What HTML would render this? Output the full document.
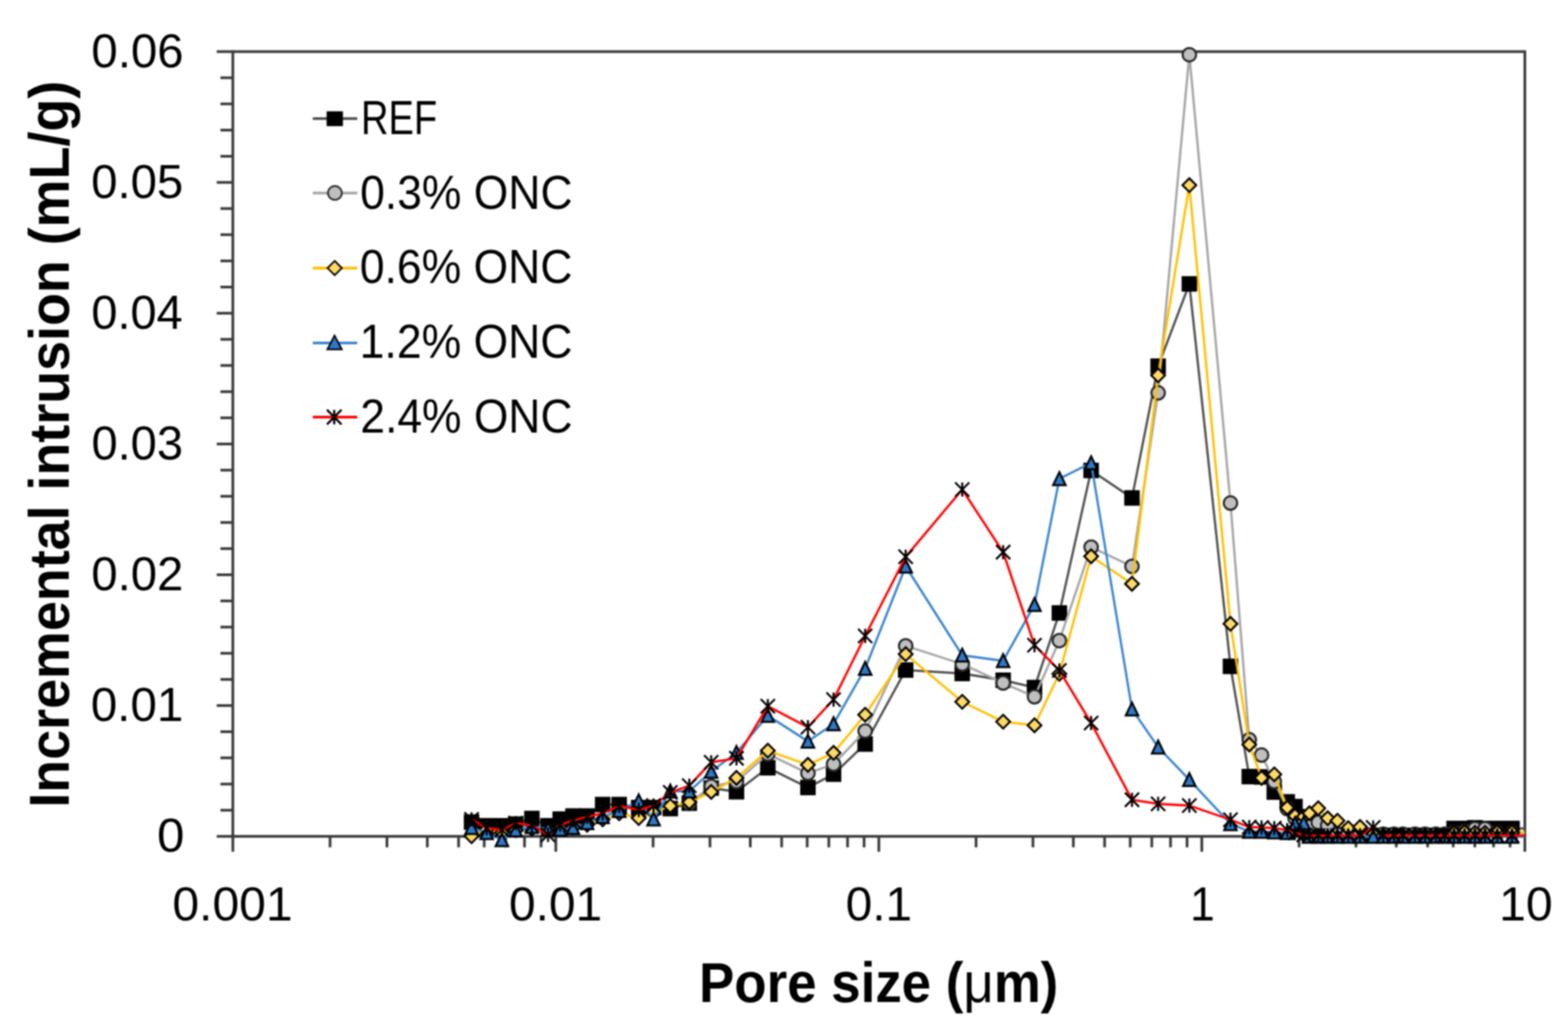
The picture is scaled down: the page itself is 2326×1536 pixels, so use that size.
<!DOCTYPE html><html><head><meta charset="utf-8"><style>html,body{margin:0;padding:0;background:#fff;overflow:hidden}svg{display:block;filter:blur(1px)}text{font-family:"Liberation Sans",Arial,sans-serif;fill:#000}</style></head><body>
<svg width="2326" height="1536" viewBox="0 0 2326 1536">
<rect width="2326" height="1536" fill="#fff"/>
<g stroke="#3a3a3a" stroke-width="4"><rect x="345.4" y="76.6" width="1916.6" height="1164.6" fill="none" stroke="#3a3a3a" stroke-width="4"/><line x1="321.5" y1="1241.2" x2="345.4" y2="1241.2"/><line x1="327" y1="1202.4" x2="345.4" y2="1202.4"/><line x1="327" y1="1163.6" x2="345.4" y2="1163.6"/><line x1="327" y1="1124.7" x2="345.4" y2="1124.7"/><line x1="327" y1="1085.9" x2="345.4" y2="1085.9"/><line x1="321.5" y1="1047.1" x2="345.4" y2="1047.1"/><line x1="327" y1="1008.3" x2="345.4" y2="1008.3"/><line x1="327" y1="969.5" x2="345.4" y2="969.5"/><line x1="327" y1="930.6" x2="345.4" y2="930.6"/><line x1="327" y1="891.8" x2="345.4" y2="891.8"/><line x1="321.5" y1="853" x2="345.4" y2="853"/><line x1="327" y1="814.2" x2="345.4" y2="814.2"/><line x1="327" y1="775.4" x2="345.4" y2="775.4"/><line x1="327" y1="736.5" x2="345.4" y2="736.5"/><line x1="327" y1="697.7" x2="345.4" y2="697.7"/><line x1="321.5" y1="658.9" x2="345.4" y2="658.9"/><line x1="327" y1="620.1" x2="345.4" y2="620.1"/><line x1="327" y1="581.3" x2="345.4" y2="581.3"/><line x1="327" y1="542.4" x2="345.4" y2="542.4"/><line x1="327" y1="503.6" x2="345.4" y2="503.6"/><line x1="321.5" y1="464.8" x2="345.4" y2="464.8"/><line x1="327" y1="426" x2="345.4" y2="426"/><line x1="327" y1="387.2" x2="345.4" y2="387.2"/><line x1="327" y1="348.3" x2="345.4" y2="348.3"/><line x1="327" y1="309.5" x2="345.4" y2="309.5"/><line x1="321.5" y1="270.7" x2="345.4" y2="270.7"/><line x1="327" y1="231.9" x2="345.4" y2="231.9"/><line x1="327" y1="193.1" x2="345.4" y2="193.1"/><line x1="327" y1="154.2" x2="345.4" y2="154.2"/><line x1="327" y1="115.4" x2="345.4" y2="115.4"/><line x1="321.5" y1="76.6" x2="345.4" y2="76.6"/><line x1="345.4" y1="1241.2" x2="345.4" y2="1264"/><line x1="489.6" y1="1241.2" x2="489.6" y2="1257.5"/><line x1="574" y1="1241.2" x2="574" y2="1257.5"/><line x1="633.9" y1="1241.2" x2="633.9" y2="1257.5"/><line x1="680.3" y1="1241.2" x2="680.3" y2="1257.5"/><line x1="718.3" y1="1241.2" x2="718.3" y2="1257.5"/><line x1="750.3" y1="1241.2" x2="750.3" y2="1257.5"/><line x1="778.1" y1="1241.2" x2="778.1" y2="1257.5"/><line x1="802.6" y1="1241.2" x2="802.6" y2="1257.5"/><line x1="824.5" y1="1241.2" x2="824.5" y2="1264"/><line x1="968.8" y1="1241.2" x2="968.8" y2="1257.5"/><line x1="1053.2" y1="1241.2" x2="1053.2" y2="1257.5"/><line x1="1113" y1="1241.2" x2="1113" y2="1257.5"/><line x1="1159.5" y1="1241.2" x2="1159.5" y2="1257.5"/><line x1="1197.4" y1="1241.2" x2="1197.4" y2="1257.5"/><line x1="1229.5" y1="1241.2" x2="1229.5" y2="1257.5"/><line x1="1257.3" y1="1241.2" x2="1257.3" y2="1257.5"/><line x1="1281.8" y1="1241.2" x2="1281.8" y2="1257.5"/><line x1="1303.7" y1="1241.2" x2="1303.7" y2="1264"/><line x1="1447.9" y1="1241.2" x2="1447.9" y2="1257.5"/><line x1="1532.3" y1="1241.2" x2="1532.3" y2="1257.5"/><line x1="1592.2" y1="1241.2" x2="1592.2" y2="1257.5"/><line x1="1638.6" y1="1241.2" x2="1638.6" y2="1257.5"/><line x1="1676.6" y1="1241.2" x2="1676.6" y2="1257.5"/><line x1="1708.6" y1="1241.2" x2="1708.6" y2="1257.5"/><line x1="1736.4" y1="1241.2" x2="1736.4" y2="1257.5"/><line x1="1760.9" y1="1241.2" x2="1760.9" y2="1257.5"/><line x1="1782.8" y1="1241.2" x2="1782.8" y2="1264"/><line x1="1927.1" y1="1241.2" x2="1927.1" y2="1257.5"/><line x1="2011.5" y1="1241.2" x2="2011.5" y2="1257.5"/><line x1="2071.3" y1="1241.2" x2="2071.3" y2="1257.5"/><line x1="2117.8" y1="1241.2" x2="2117.8" y2="1257.5"/><line x1="2155.7" y1="1241.2" x2="2155.7" y2="1257.5"/><line x1="2187.8" y1="1241.2" x2="2187.8" y2="1257.5"/><line x1="2215.6" y1="1241.2" x2="2215.6" y2="1257.5"/><line x1="2240.1" y1="1241.2" x2="2240.1" y2="1257.5"/><line x1="2262" y1="1241.2" x2="2262" y2="1264"/></g>
<defs><clipPath id="pa"><rect x="0" y="0" width="2263" height="1536"/></clipPath></defs>
<g clip-path="url(#pa)">
<polyline fill="none" stroke="#505050" stroke-width="3.4" stroke-linejoin="round" points="699.5,1220 722,1225.5 744.5,1225.5 765,1223 789,1214.7 813,1225.5 831,1215.6 850,1211 871,1211 894,1194 918.5,1194 947.5,1198.5 969.5,1198.5 994.3,1200 1022.5,1192 1055,1169.5 1092.5,1175 1139,1139.4 1198.5,1168.7 1236.5,1148.9 1283.4,1104.2 1343.5,994.4 1427.4,999.5 1488.1,1009.5 1534.6,1020.4 1571.5,909.7 1618.6,698.2 1679.2,739 1718,543.4 1764.3,421.3 1825.3,988.9 1853.2,1152.5 1871.4,1153 1890.3,1175.5 1909.5,1190 1921,1197 1934,1230 1942.5,1240 1955.5,1240 1969.5,1240 1984,1240 2000,1240 2017.5,1240 2037,1240 2052,1240 2068,1240 2081,1240 2099,1240 2114,1240 2130,1240 2143,1240 2157,1229.5 2172.5,1229.5 2188,1228.5 2203,1229.5 2221,1229.5 2243,1229.5 2262,1229.5"/>
<g fill="#000"><rect x="688" y="1208.5" width="23" height="23"/><rect x="710.5" y="1214" width="23" height="23"/><rect x="733" y="1214" width="23" height="23"/><rect x="753.5" y="1211.5" width="23" height="23"/><rect x="777.5" y="1203.2" width="23" height="23"/><rect x="801.5" y="1214" width="23" height="23"/><rect x="819.5" y="1204.1" width="23" height="23"/><rect x="838.5" y="1199.5" width="23" height="23"/><rect x="859.5" y="1199.5" width="23" height="23"/><rect x="882.5" y="1182.5" width="23" height="23"/><rect x="907" y="1182.5" width="23" height="23"/><rect x="936" y="1187" width="23" height="23"/><rect x="958" y="1187" width="23" height="23"/><rect x="982.8" y="1188.5" width="23" height="23"/><rect x="1011" y="1180.5" width="23" height="23"/><rect x="1043.5" y="1158" width="23" height="23"/><rect x="1081" y="1163.5" width="23" height="23"/><rect x="1127.5" y="1127.9" width="23" height="23"/><rect x="1187" y="1157.2" width="23" height="23"/><rect x="1225" y="1137.4" width="23" height="23"/><rect x="1271.9" y="1092.7" width="23" height="23"/><rect x="1332" y="982.9" width="23" height="23"/><rect x="1415.9" y="988" width="23" height="23"/><rect x="1476.6" y="998" width="23" height="23"/><rect x="1523.1" y="1008.9" width="23" height="23"/><rect x="1560" y="898.2" width="23" height="23"/><rect x="1607.1" y="686.7" width="23" height="23"/><rect x="1667.7" y="727.5" width="23" height="23"/><rect x="1706.5" y="531.9" width="23" height="23"/><rect x="1752.8" y="409.8" width="23" height="23"/><rect x="1813.8" y="977.4" width="23" height="23"/><rect x="1841.7" y="1141" width="23" height="23"/><rect x="1859.9" y="1141.5" width="23" height="23"/><rect x="1878.8" y="1164" width="23" height="23"/><rect x="1898" y="1178.5" width="23" height="23"/><rect x="1909.5" y="1185.5" width="23" height="23"/><rect x="1922.5" y="1218.5" width="23" height="23"/><rect x="1931" y="1228.5" width="23" height="23"/><rect x="1944" y="1228.5" width="23" height="23"/><rect x="1958" y="1228.5" width="23" height="23"/><rect x="1972.5" y="1228.5" width="23" height="23"/><rect x="1988.5" y="1228.5" width="23" height="23"/><rect x="2006" y="1228.5" width="23" height="23"/><rect x="2025.5" y="1228.5" width="23" height="23"/><rect x="2040.5" y="1228.5" width="23" height="23"/><rect x="2056.5" y="1228.5" width="23" height="23"/><rect x="2069.5" y="1228.5" width="23" height="23"/><rect x="2087.5" y="1228.5" width="23" height="23"/><rect x="2102.5" y="1228.5" width="23" height="23"/><rect x="2118.5" y="1228.5" width="23" height="23"/><rect x="2131.5" y="1228.5" width="23" height="23"/><rect x="2145.5" y="1218" width="23" height="23"/><rect x="2161" y="1218" width="23" height="23"/><rect x="2176.5" y="1217" width="23" height="23"/><rect x="2191.5" y="1218" width="23" height="23"/><rect x="2209.5" y="1218" width="23" height="23"/><rect x="2231.5" y="1218" width="23" height="23"/></g>
<polyline fill="none" stroke="#a5a5a5" stroke-width="3.4" stroke-linejoin="round" points="1022.5,1192 1055,1166.9 1092.5,1160 1139,1119 1198.5,1147.6 1236.5,1134 1283.4,1085 1343.5,958.5 1427.4,985.5 1488.1,1013.5 1534.6,1034.1 1571.5,950.7 1618.6,812 1679.2,840.5 1718,583.1 1764.3,81.2 1825.3,746.6 1853.2,1097.8 1871.4,1120.6 1890.3,1160 1909.5,1200 1921,1214 1934,1220 1942.5,1226 1955.5,1220.5 1969.5,1225 1984,1238 2000,1238 2017.5,1238 2037,1238 2052,1238 2068,1238 2081,1238 2099,1238 2114,1238 2130,1238 2143,1238 2157,1236 2172.5,1234 2188,1230 2203,1230 2221,1236 2243,1236 2262,1236"/>
<g fill="#bfbfbf" stroke="#262626" stroke-width="3.0"><circle cx="1022.5" cy="1192" r="10"/><circle cx="1055" cy="1166.9" r="10"/><circle cx="1092.5" cy="1160" r="10"/><circle cx="1139" cy="1119" r="10"/><circle cx="1198.5" cy="1147.6" r="10"/><circle cx="1236.5" cy="1134" r="10"/><circle cx="1283.4" cy="1085" r="10"/><circle cx="1343.5" cy="958.5" r="10"/><circle cx="1427.4" cy="985.5" r="10"/><circle cx="1488.1" cy="1013.5" r="10"/><circle cx="1534.6" cy="1034.1" r="10"/><circle cx="1571.5" cy="950.7" r="10"/><circle cx="1618.6" cy="812" r="10"/><circle cx="1679.2" cy="840.5" r="10"/><circle cx="1718" cy="583.1" r="10"/><circle cx="1764.3" cy="81.2" r="10"/><circle cx="1825.3" cy="746.6" r="10"/><circle cx="1853.2" cy="1097.8" r="10"/><circle cx="1871.4" cy="1120.6" r="10"/><circle cx="1890.3" cy="1160" r="10"/><circle cx="1909.5" cy="1200" r="10"/><circle cx="1921" cy="1214" r="10"/><circle cx="1934" cy="1220" r="10"/><circle cx="1942.5" cy="1226" r="10"/><circle cx="1955.5" cy="1220.5" r="10"/><circle cx="1969.5" cy="1225" r="10"/><circle cx="1984" cy="1238" r="10"/><circle cx="2000" cy="1238" r="10"/><circle cx="2017.5" cy="1238" r="10"/><circle cx="2037" cy="1238" r="10"/><circle cx="2052" cy="1238" r="10"/><circle cx="2068" cy="1238" r="10"/><circle cx="2081" cy="1238" r="10"/><circle cx="2099" cy="1238" r="10"/><circle cx="2114" cy="1238" r="10"/><circle cx="2130" cy="1238" r="10"/><circle cx="2143" cy="1238" r="10"/><circle cx="2157" cy="1236" r="10"/><circle cx="2172.5" cy="1234" r="10"/><circle cx="2188" cy="1230" r="10"/><circle cx="2203" cy="1230" r="10"/><circle cx="2221" cy="1236" r="10"/><circle cx="2243" cy="1236" r="10"/></g>
<polyline fill="none" stroke="#ffc000" stroke-width="3.4" stroke-linejoin="round" points="699.5,1241 722,1231 744.5,1236 765,1232 789,1230 813,1232 831,1229 850,1228 871,1224 894,1216 918.5,1207 947.5,1214 969.5,1206 994.3,1196 1022.5,1190.6 1055,1175.2 1092.5,1154.4 1139,1114 1198.5,1135.1 1236.5,1117.3 1283.4,1060.7 1343.5,970.8 1427.4,1041.5 1488.1,1071 1534.6,1076.4 1571.5,1000 1618.6,825.6 1679.2,866.4 1718,557 1764.3,274.8 1825.3,925.8 1853.2,1104.9 1871.4,1154.4 1890.3,1149.2 1909.5,1198.6 1921,1210.6 1934,1212 1942.5,1206.9 1955.5,1199.5 1969.5,1214.3 1984,1218 2000,1229 2017.5,1227.2 2037,1236 2052,1240 2068,1240 2081,1240 2099,1240 2114,1240 2130,1240 2143,1240 2157,1236 2172.5,1235 2188,1236 2203,1236 2221,1235 2243,1235 2262,1235"/>
<g fill="#ffd966" stroke="#000" stroke-width="3.0" stroke-linejoin="miter"><path d="M699.5 1230.8L709.7 1241L699.5 1251.2L689.3 1241Z"/><path d="M722 1220.8L732.2 1231L722 1241.2L711.8 1231Z"/><path d="M744.5 1225.8L754.7 1236L744.5 1246.2L734.3 1236Z"/><path d="M765 1221.8L775.2 1232L765 1242.2L754.8 1232Z"/><path d="M789 1219.8L799.2 1230L789 1240.2L778.8 1230Z"/><path d="M813 1221.8L823.2 1232L813 1242.2L802.8 1232Z"/><path d="M831 1218.8L841.2 1229L831 1239.2L820.8 1229Z"/><path d="M850 1217.8L860.2 1228L850 1238.2L839.8 1228Z"/><path d="M871 1213.8L881.2 1224L871 1234.2L860.8 1224Z"/><path d="M894 1205.8L904.2 1216L894 1226.2L883.8 1216Z"/><path d="M918.5 1196.8L928.7 1207L918.5 1217.2L908.3 1207Z"/><path d="M947.5 1203.8L957.7 1214L947.5 1224.2L937.3 1214Z"/><path d="M969.5 1195.8L979.7 1206L969.5 1216.2L959.3 1206Z"/><path d="M994.3 1185.8L1004.5 1196L994.3 1206.2L984.1 1196Z"/><path d="M1022.5 1180.4L1032.7 1190.6L1022.5 1200.8L1012.3 1190.6Z"/><path d="M1055 1165L1065.2 1175.2L1055 1185.4L1044.8 1175.2Z"/><path d="M1092.5 1144.2L1102.7 1154.4L1092.5 1164.6L1082.3 1154.4Z"/><path d="M1139 1103.8L1149.2 1114L1139 1124.2L1128.8 1114Z"/><path d="M1198.5 1124.9L1208.7 1135.1L1198.5 1145.3L1188.3 1135.1Z"/><path d="M1236.5 1107.1L1246.7 1117.3L1236.5 1127.5L1226.3 1117.3Z"/><path d="M1283.4 1050.5L1293.6 1060.7L1283.4 1070.9L1273.2 1060.7Z"/><path d="M1343.5 960.6L1353.7 970.8L1343.5 981L1333.3 970.8Z"/><path d="M1427.4 1031.3L1437.6 1041.5L1427.4 1051.7L1417.2 1041.5Z"/><path d="M1488.1 1060.8L1498.3 1071L1488.1 1081.2L1477.9 1071Z"/><path d="M1534.6 1066.2L1544.8 1076.4L1534.6 1086.6L1524.4 1076.4Z"/><path d="M1571.5 989.8L1581.7 1000L1571.5 1010.2L1561.3 1000Z"/><path d="M1618.6 815.4L1628.8 825.6L1618.6 835.8L1608.4 825.6Z"/><path d="M1679.2 856.2L1689.4 866.4L1679.2 876.6L1669 866.4Z"/><path d="M1718 546.8L1728.2 557L1718 567.2L1707.8 557Z"/><path d="M1764.3 264.6L1774.5 274.8L1764.3 285L1754.1 274.8Z"/><path d="M1825.3 915.6L1835.5 925.8L1825.3 936L1815.1 925.8Z"/><path d="M1853.2 1094.7L1863.4 1104.9L1853.2 1115.1L1843 1104.9Z"/><path d="M1871.4 1144.2L1881.6 1154.4L1871.4 1164.6L1861.2 1154.4Z"/><path d="M1890.3 1139L1900.5 1149.2L1890.3 1159.4L1880.1 1149.2Z"/><path d="M1909.5 1188.4L1919.7 1198.6L1909.5 1208.8L1899.3 1198.6Z"/><path d="M1921 1200.4L1931.2 1210.6L1921 1220.8L1910.8 1210.6Z"/><path d="M1934 1201.8L1944.2 1212L1934 1222.2L1923.8 1212Z"/><path d="M1942.5 1196.7L1952.7 1206.9L1942.5 1217.1L1932.3 1206.9Z"/><path d="M1955.5 1189.3L1965.7 1199.5L1955.5 1209.7L1945.3 1199.5Z"/><path d="M1969.5 1204.1L1979.7 1214.3L1969.5 1224.5L1959.3 1214.3Z"/><path d="M1984 1207.8L1994.2 1218L1984 1228.2L1973.8 1218Z"/><path d="M2000 1218.8L2010.2 1229L2000 1239.2L1989.8 1229Z"/><path d="M2017.5 1217L2027.7 1227.2L2017.5 1237.4L2007.3 1227.2Z"/><path d="M2037 1225.8L2047.2 1236L2037 1246.2L2026.8 1236Z"/><path d="M2052 1229.8L2062.2 1240L2052 1250.2L2041.8 1240Z"/><path d="M2068 1229.8L2078.2 1240L2068 1250.2L2057.8 1240Z"/><path d="M2081 1229.8L2091.2 1240L2081 1250.2L2070.8 1240Z"/><path d="M2099 1229.8L2109.2 1240L2099 1250.2L2088.8 1240Z"/><path d="M2114 1229.8L2124.2 1240L2114 1250.2L2103.8 1240Z"/><path d="M2130 1229.8L2140.2 1240L2130 1250.2L2119.8 1240Z"/><path d="M2143 1229.8L2153.2 1240L2143 1250.2L2132.8 1240Z"/><path d="M2157 1225.8L2167.2 1236L2157 1246.2L2146.8 1236Z"/><path d="M2172.5 1224.8L2182.7 1235L2172.5 1245.2L2162.3 1235Z"/><path d="M2188 1225.8L2198.2 1236L2188 1246.2L2177.8 1236Z"/><path d="M2203 1225.8L2213.2 1236L2203 1246.2L2192.8 1236Z"/><path d="M2221 1224.8L2231.2 1235L2221 1245.2L2210.8 1235Z"/><path d="M2243 1224.8L2253.2 1235L2243 1245.2L2232.8 1235Z"/></g>
<polyline fill="none" stroke="#3b85cf" stroke-width="3.4" stroke-linejoin="round" points="699.5,1228.5 722,1236 744.5,1246.5 765,1232 789,1227 813,1230.3 831,1231 850,1228.5 871,1221.3 894,1212.2 918.5,1203.2 947.5,1188.8 969.5,1215.8 994.3,1174.3 1022.5,1174.3 1055,1145 1092.5,1117 1139,1062 1198.5,1100.2 1236.5,1074.4 1283.4,992.2 1343.5,840.5 1427.4,972.5 1488.1,980.7 1534.6,897.4 1571.5,710.6 1618.6,687 1679.2,1052.5 1718,1108.9 1764.3,1157.2 1825.3,1222.7 1853.2,1234 1871.4,1234 1890.3,1235 1909.5,1236 1921,1222.5 1934,1221.5 1942.5,1241.5 1955.5,1241.5 1969.5,1241.5 1984,1241.5 2000,1241.5 2017.5,1241.5 2037,1241.5 2052,1241.5 2068,1241.5 2081,1241.5 2099,1241.5 2114,1241.5 2130,1241.5 2143,1241.5 2157,1241.5 2172.5,1241.5 2188,1241.5 2203,1241.5 2221,1241.5 2243,1241.5 2262,1241.5"/>
<g fill="#2e78c8" stroke="#000" stroke-width="3.0" stroke-linejoin="miter"><path d="M699.5 1218.6L708.8 1237.8L690.2 1237.8Z"/><path d="M722 1226.1L731.2 1245.3L712.8 1245.3Z"/><path d="M744.5 1236.6L753.8 1255.8L735.2 1255.8Z"/><path d="M765 1222.1L774.2 1241.3L755.8 1241.3Z"/><path d="M789 1217.1L798.2 1236.3L779.8 1236.3Z"/><path d="M813 1220.4L822.2 1239.6L803.8 1239.6Z"/><path d="M831 1221.1L840.2 1240.3L821.8 1240.3Z"/><path d="M850 1218.6L859.2 1237.8L840.8 1237.8Z"/><path d="M871 1211.4L880.2 1230.6L861.8 1230.6Z"/><path d="M894 1202.3L903.2 1221.5L884.8 1221.5Z"/><path d="M918.5 1193.3L927.8 1212.5L909.2 1212.5Z"/><path d="M947.5 1178.9L956.8 1198.1L938.2 1198.1Z"/><path d="M969.5 1205.9L978.8 1225.1L960.2 1225.1Z"/><path d="M994.3 1164.4L1003.5 1183.6L985 1183.6Z"/><path d="M1022.5 1164.4L1031.8 1183.6L1013.2 1183.6Z"/><path d="M1055 1135.1L1064.2 1154.3L1045.8 1154.3Z"/><path d="M1092.5 1107.1L1101.8 1126.3L1083.2 1126.3Z"/><path d="M1139 1052.1L1148.2 1071.3L1129.8 1071.3Z"/><path d="M1198.5 1090.3L1207.8 1109.5L1189.2 1109.5Z"/><path d="M1236.5 1064.5L1245.8 1083.7L1227.2 1083.7Z"/><path d="M1283.4 982.3L1292.7 1001.5L1274.2 1001.5Z"/><path d="M1343.5 830.6L1352.8 849.8L1334.2 849.8Z"/><path d="M1427.4 962.6L1436.7 981.8L1418.2 981.8Z"/><path d="M1488.1 970.8L1497.3 990L1478.8 990Z"/><path d="M1534.6 887.5L1543.8 906.7L1525.3 906.7Z"/><path d="M1571.5 700.7L1580.8 719.9L1562.2 719.9Z"/><path d="M1618.6 677.1L1627.8 696.3L1609.3 696.3Z"/><path d="M1679.2 1042.6L1688.5 1061.8L1670 1061.8Z"/><path d="M1718 1099L1727.2 1118.2L1708.8 1118.2Z"/><path d="M1764.3 1147.3L1773.5 1166.5L1755 1166.5Z"/><path d="M1825.3 1212.8L1834.5 1232L1816 1232Z"/><path d="M1853.2 1224.1L1862.5 1243.3L1844 1243.3Z"/><path d="M1871.4 1224.1L1880.7 1243.3L1862.2 1243.3Z"/><path d="M1890.3 1225.1L1899.5 1244.3L1881 1244.3Z"/><path d="M1909.5 1226.1L1918.8 1245.3L1900.2 1245.3Z"/><path d="M1921 1212.6L1930.2 1231.8L1911.8 1231.8Z"/><path d="M1934 1211.6L1943.2 1230.8L1924.8 1230.8Z"/><path d="M1942.5 1231.6L1951.8 1250.8L1933.2 1250.8Z"/><path d="M1955.5 1231.6L1964.8 1250.8L1946.2 1250.8Z"/><path d="M1969.5 1231.6L1978.8 1250.8L1960.2 1250.8Z"/><path d="M1984 1231.6L1993.2 1250.8L1974.8 1250.8Z"/><path d="M2000 1231.6L2009.2 1250.8L1990.8 1250.8Z"/><path d="M2017.5 1231.6L2026.8 1250.8L2008.2 1250.8Z"/><path d="M2037 1231.6L2046.2 1250.8L2027.8 1250.8Z"/><path d="M2052 1231.6L2061.2 1250.8L2042.8 1250.8Z"/><path d="M2068 1231.6L2077.2 1250.8L2058.8 1250.8Z"/><path d="M2081 1231.6L2090.2 1250.8L2071.8 1250.8Z"/><path d="M2099 1231.6L2108.2 1250.8L2089.8 1250.8Z"/><path d="M2114 1231.6L2123.2 1250.8L2104.8 1250.8Z"/><path d="M2130 1231.6L2139.2 1250.8L2120.8 1250.8Z"/><path d="M2143 1231.6L2152.2 1250.8L2133.8 1250.8Z"/><path d="M2157 1231.6L2166.2 1250.8L2147.8 1250.8Z"/><path d="M2172.5 1231.6L2181.8 1250.8L2163.2 1250.8Z"/><path d="M2188 1231.6L2197.2 1250.8L2178.8 1250.8Z"/><path d="M2203 1231.6L2212.2 1250.8L2193.8 1250.8Z"/><path d="M2221 1231.6L2230.2 1250.8L2211.8 1250.8Z"/><path d="M2243 1231.6L2252.2 1250.8L2233.8 1250.8Z"/></g>
<polyline fill="none" stroke="#ff0000" stroke-width="3.4" stroke-linejoin="round" points="699.5,1216 722,1229 744.5,1231.5 765,1221.5 789,1225 813,1239 831,1224 850,1217.6 871,1212.2 894,1207 918.5,1196 947.5,1202 969.5,1195.5 994.3,1176 1022.5,1166 1055,1131.3 1092.5,1125.4 1139,1048 1198.5,1079.2 1236.5,1038.2 1283.4,943.8 1343.5,826.3 1427.4,726.5 1488.1,819.4 1534.6,957.5 1571.5,995 1618.6,1073 1679.2,1186.9 1718,1193 1764.3,1195.5 1825.3,1216.5 1853.2,1227.5 1871.4,1228 1890.3,1229 1909.5,1232 1921,1236 1934,1239 1942.5,1240 1955.5,1240 1969.5,1240 1984,1240 2000,1240 2017.5,1240 2037,1228 2052,1240 2068,1240 2081,1240 2099,1240 2114,1240 2130,1240 2143,1240 2157,1240 2172.5,1240 2188,1240 2203,1240 2221,1240 2243,1240 2262,1240"/>
<g fill="none" stroke="#000" stroke-width="3"><path d="M689 1205.5L710 1226.5M710 1205.5L689 1226.5M699.5 1205.5L699.5 1226.5"/><path d="M711.5 1218.5L732.5 1239.5M732.5 1218.5L711.5 1239.5M722 1218.5L722 1239.5"/><path d="M734 1221L755 1242M755 1221L734 1242M744.5 1221L744.5 1242"/><path d="M754.5 1211L775.5 1232M775.5 1211L754.5 1232M765 1211L765 1232"/><path d="M778.5 1214.5L799.5 1235.5M799.5 1214.5L778.5 1235.5M789 1214.5L789 1235.5"/><path d="M802.5 1228.5L823.5 1249.5M823.5 1228.5L802.5 1249.5M813 1228.5L813 1249.5"/><path d="M820.5 1213.5L841.5 1234.5M841.5 1213.5L820.5 1234.5M831 1213.5L831 1234.5"/><path d="M839.5 1207.1L860.5 1228.1M860.5 1207.1L839.5 1228.1M850 1207.1L850 1228.1"/><path d="M860.5 1201.7L881.5 1222.7M881.5 1201.7L860.5 1222.7M871 1201.7L871 1222.7"/><path d="M883.5 1196.5L904.5 1217.5M904.5 1196.5L883.5 1217.5M894 1196.5L894 1217.5"/><path d="M908 1185.5L929 1206.5M929 1185.5L908 1206.5M918.5 1185.5L918.5 1206.5"/><path d="M937 1191.5L958 1212.5M958 1191.5L937 1212.5M947.5 1191.5L947.5 1212.5"/><path d="M959 1185L980 1206M980 1185L959 1206M969.5 1185L969.5 1206"/><path d="M983.8 1165.5L1004.8 1186.5M1004.8 1165.5L983.8 1186.5M994.3 1165.5L994.3 1186.5"/><path d="M1012 1155.5L1033 1176.5M1033 1155.5L1012 1176.5M1022.5 1155.5L1022.5 1176.5"/><path d="M1044.5 1120.8L1065.5 1141.8M1065.5 1120.8L1044.5 1141.8M1055 1120.8L1055 1141.8"/><path d="M1082 1114.9L1103 1135.9M1103 1114.9L1082 1135.9M1092.5 1114.9L1092.5 1135.9"/><path d="M1128.5 1037.5L1149.5 1058.5M1149.5 1037.5L1128.5 1058.5M1139 1037.5L1139 1058.5"/><path d="M1188 1068.7L1209 1089.7M1209 1068.7L1188 1089.7M1198.5 1068.7L1198.5 1089.7"/><path d="M1226 1027.7L1247 1048.7M1247 1027.7L1226 1048.7M1236.5 1027.7L1236.5 1048.7"/><path d="M1272.9 933.3L1293.9 954.3M1293.9 933.3L1272.9 954.3M1283.4 933.3L1283.4 954.3"/><path d="M1333 815.8L1354 836.8M1354 815.8L1333 836.8M1343.5 815.8L1343.5 836.8"/><path d="M1416.9 716L1437.9 737M1437.9 716L1416.9 737M1427.4 716L1427.4 737"/><path d="M1477.6 808.9L1498.6 829.9M1498.6 808.9L1477.6 829.9M1488.1 808.9L1488.1 829.9"/><path d="M1524.1 947L1545.1 968M1545.1 947L1524.1 968M1534.6 947L1534.6 968"/><path d="M1561 984.5L1582 1005.5M1582 984.5L1561 1005.5M1571.5 984.5L1571.5 1005.5"/><path d="M1608.1 1062.5L1629.1 1083.5M1629.1 1062.5L1608.1 1083.5M1618.6 1062.5L1618.6 1083.5"/><path d="M1668.7 1176.4L1689.7 1197.4M1689.7 1176.4L1668.7 1197.4M1679.2 1176.4L1679.2 1197.4"/><path d="M1707.5 1182.5L1728.5 1203.5M1728.5 1182.5L1707.5 1203.5M1718 1182.5L1718 1203.5"/><path d="M1753.8 1185L1774.8 1206M1774.8 1185L1753.8 1206M1764.3 1185L1764.3 1206"/><path d="M1814.8 1206L1835.8 1227M1835.8 1206L1814.8 1227M1825.3 1206L1825.3 1227"/><path d="M1842.7 1217L1863.7 1238M1863.7 1217L1842.7 1238M1853.2 1217L1853.2 1238"/><path d="M1860.9 1217.5L1881.9 1238.5M1881.9 1217.5L1860.9 1238.5M1871.4 1217.5L1871.4 1238.5"/><path d="M1879.8 1218.5L1900.8 1239.5M1900.8 1218.5L1879.8 1239.5M1890.3 1218.5L1890.3 1239.5"/><path d="M1899 1221.5L1920 1242.5M1920 1221.5L1899 1242.5M1909.5 1221.5L1909.5 1242.5"/><path d="M1910.5 1225.5L1931.5 1246.5M1931.5 1225.5L1910.5 1246.5M1921 1225.5L1921 1246.5"/><path d="M1923.5 1228.5L1944.5 1249.5M1944.5 1228.5L1923.5 1249.5M1934 1228.5L1934 1249.5"/><path d="M1932 1229.5L1953 1250.5M1953 1229.5L1932 1250.5M1942.5 1229.5L1942.5 1250.5"/><path d="M1945 1229.5L1966 1250.5M1966 1229.5L1945 1250.5M1955.5 1229.5L1955.5 1250.5"/><path d="M1959 1229.5L1980 1250.5M1980 1229.5L1959 1250.5M1969.5 1229.5L1969.5 1250.5"/><path d="M1973.5 1229.5L1994.5 1250.5M1994.5 1229.5L1973.5 1250.5M1984 1229.5L1984 1250.5"/><path d="M1989.5 1229.5L2010.5 1250.5M2010.5 1229.5L1989.5 1250.5M2000 1229.5L2000 1250.5"/><path d="M2007 1229.5L2028 1250.5M2028 1229.5L2007 1250.5M2017.5 1229.5L2017.5 1250.5"/><path d="M2026.5 1217.5L2047.5 1238.5M2047.5 1217.5L2026.5 1238.5M2037 1217.5L2037 1238.5"/><path d="M2041.5 1229.5L2062.5 1250.5M2062.5 1229.5L2041.5 1250.5M2052 1229.5L2052 1250.5"/><path d="M2057.5 1229.5L2078.5 1250.5M2078.5 1229.5L2057.5 1250.5M2068 1229.5L2068 1250.5"/><path d="M2070.5 1229.5L2091.5 1250.5M2091.5 1229.5L2070.5 1250.5M2081 1229.5L2081 1250.5"/><path d="M2088.5 1229.5L2109.5 1250.5M2109.5 1229.5L2088.5 1250.5M2099 1229.5L2099 1250.5"/><path d="M2103.5 1229.5L2124.5 1250.5M2124.5 1229.5L2103.5 1250.5M2114 1229.5L2114 1250.5"/><path d="M2119.5 1229.5L2140.5 1250.5M2140.5 1229.5L2119.5 1250.5M2130 1229.5L2130 1250.5"/><path d="M2132.5 1229.5L2153.5 1250.5M2153.5 1229.5L2132.5 1250.5M2143 1229.5L2143 1250.5"/><path d="M2146.5 1229.5L2167.5 1250.5M2167.5 1229.5L2146.5 1250.5M2157 1229.5L2157 1250.5"/><path d="M2162 1229.5L2183 1250.5M2183 1229.5L2162 1250.5M2172.5 1229.5L2172.5 1250.5"/><path d="M2177.5 1229.5L2198.5 1250.5M2198.5 1229.5L2177.5 1250.5M2188 1229.5L2188 1250.5"/><path d="M2192.5 1229.5L2213.5 1250.5M2213.5 1229.5L2192.5 1250.5M2203 1229.5L2203 1250.5"/><path d="M2210.5 1229.5L2231.5 1250.5M2231.5 1229.5L2210.5 1250.5M2221 1229.5L2221 1250.5"/><path d="M2232.5 1229.5L2253.5 1250.5M2253.5 1229.5L2232.5 1250.5M2243 1229.5L2243 1250.5"/></g>
</g>
<text x="233.08" y="1264.10" font-size="71" textLength="40.56" lengthAdjust="spacingAndGlyphs">0</text><text x="134.68" y="1070.00" font-size="71" textLength="137.19" lengthAdjust="spacingAndGlyphs">0.01</text><text x="135.50" y="875.90" font-size="71" textLength="136.35" lengthAdjust="spacingAndGlyphs">0.02</text><text x="135.71" y="681.80" font-size="71" textLength="135.73" lengthAdjust="spacingAndGlyphs">0.03</text><text x="135.51" y="487.70" font-size="71" textLength="135.63" lengthAdjust="spacingAndGlyphs">0.04</text><text x="135.19" y="293.60" font-size="71" textLength="136.67" lengthAdjust="spacingAndGlyphs">0.05</text><text x="135.59" y="99.50" font-size="71" textLength="136.77" lengthAdjust="spacingAndGlyphs">0.06</text><text x="255.75" y="1365.80" font-size="71" textLength="178.29" lengthAdjust="spacingAndGlyphs">0.001</text><text x="755.06" y="1365.80" font-size="71" textLength="138.24" lengthAdjust="spacingAndGlyphs">0.01</text><text x="1254.46" y="1365.80" font-size="71" textLength="98.59" lengthAdjust="spacingAndGlyphs">0.1</text><text x="1765.45" y="1365.80" font-size="71" textLength="36.48" lengthAdjust="spacingAndGlyphs">1</text><text x="2223.78" y="1365.80" font-size="71" textLength="79.55" lengthAdjust="spacingAndGlyphs">10</text>
<text x="1037.12" y="1487.00" font-size="83" font-weight="bold" textLength="532.84" lengthAdjust="spacingAndGlyphs">Pore size (<tspan font-weight="normal">μ</tspan>m)</text>
<text transform="translate(102.3,1198.59) rotate(-90)" x="0" y="0" font-size="83" font-weight="bold" textLength="1078.67" lengthAdjust="spacingAndGlyphs">Incremental intrusion (mL/g)</text>
<line x1="464" y1="176" x2="530" y2="176" stroke="#505050" stroke-width="4.2"/><line x1="464" y1="286.5" x2="530" y2="286.5" stroke="#a5a5a5" stroke-width="4.2"/><line x1="464" y1="397.8" x2="530" y2="397.8" stroke="#ffc000" stroke-width="4.2"/><line x1="464" y1="509" x2="530" y2="509" stroke="#3b85cf" stroke-width="4.2"/><line x1="464" y1="619" x2="530" y2="619" stroke="#ff0000" stroke-width="4.2"/><rect x="484.5" y="165.2" width="24.2" height="22" fill="#000"/><g fill="#bfbfbf" stroke="#262626" stroke-width="2.5"><circle cx="496.8" cy="286.3" r="10.3"/></g><g fill="#ffd966" stroke="#000" stroke-width="2.5"><path d="M496.5 387.2L507.1 397.8L496.5 408.4L485.9 397.8Z"/></g><g fill="#2e78c8" stroke="#000" stroke-width="2.5"><path d="M496.3 498L507.1 518.6L485.6 518.6Z"/></g><g fill="none" stroke="#000" stroke-width="3.25"><path d="M485 608.2L506.6 629.8M506.6 608.2L485 629.8M495.8 608.2L495.8 629.8"/></g><text x="535.38" y="199.30" font-size="70.5" textLength="113.09" lengthAdjust="spacingAndGlyphs">REF</text><text x="534.16" y="309.60" font-size="70.5" textLength="315.13" lengthAdjust="spacingAndGlyphs">0.3% ONC</text><text x="533.76" y="420.40" font-size="70.5" textLength="315.44" lengthAdjust="spacingAndGlyphs">0.6% ONC</text><text x="533.62" y="531.00" font-size="70.5" textLength="315.58" lengthAdjust="spacingAndGlyphs">1.2% ONC</text><text x="534.61" y="642.00" font-size="70.5" textLength="314.58" lengthAdjust="spacingAndGlyphs">2.4% ONC</text>
</svg></body></html>
